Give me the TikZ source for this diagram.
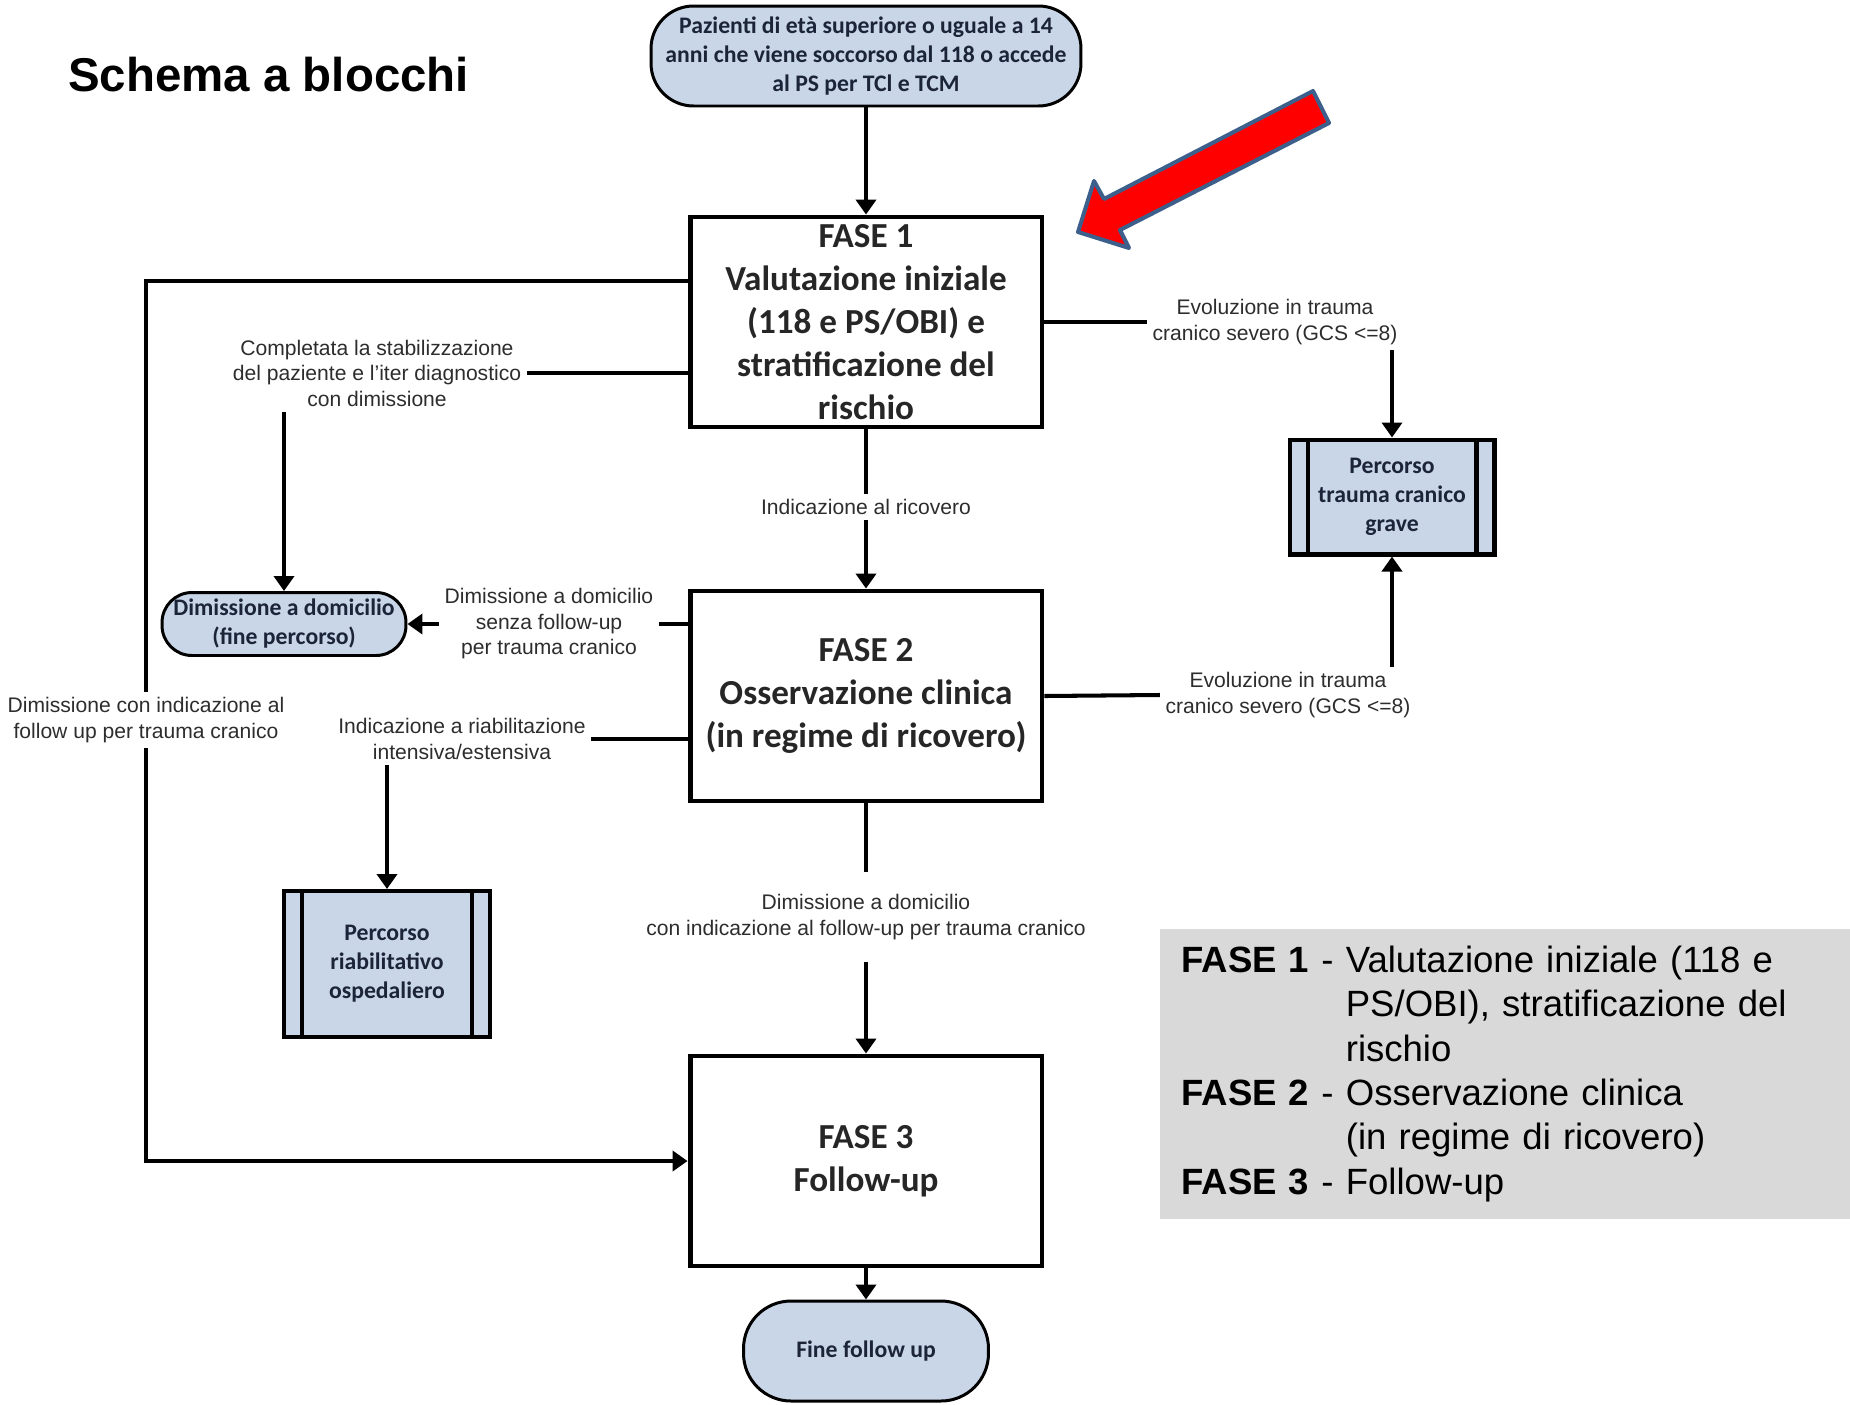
\documentclass[tikz,border=0pt]{standalone}
\usepackage{fontspec}
\setmainfont{Liberation Sans}
\newfontfamily\calibri{Carlito}
\usetikzlibrary{shapes.misc, arrows.meta, positioning, calc}
\definecolor{cFill}{RGB}{200,214,232}
\definecolor{cInk}{RGB}{28,36,58}
\definecolor{cText}{RGB}{45,45,45}
\definecolor{cLegend}{RGB}{217,217,217}
\definecolor{cRed}{RGB}{255,0,0}
\definecolor{cEdge}{RGB}{60,95,140}

\begin{document}
\begin{tikzpicture}[x=0.02cm, y=-0.02cm,
    fase/.style={rectangle, draw, line width=2.8pt, minimum width=7.04cm, minimum height=4.2cm,
                 inner sep=2pt, align=center, text=black!85, font=\calibri\bfseries\fontsize{20}{24.4}\selectfont},
    term/.style={rectangle, draw, line width=1.7pt, fill=cFill, inner sep=0pt, align=center,
                 text=cInk, font=\calibri\bfseries\fontsize{13.5}{16.5}\selectfont},
    proc/.style={rectangle, draw, line width=2.3pt, fill=cFill, align=center, text=cInk,
                 font=\calibri\bfseries\fontsize{13.5}{16.5}\selectfont,
                 path picture={\draw[line width=2.3pt]
                   ([xshift=.36cm]path picture bounding box.north west) -- ([xshift=.36cm]path picture bounding box.south west)
                   ([xshift=-.36cm]path picture bounding box.north east) -- ([xshift=-.36cm]path picture bounding box.south east);}},
    lbl/.style={align=center, inner sep=3pt, text=cText, font=\fontsize{12}{14.5}\selectfont},
    conn/.style={line width=2.3pt},
    arr/.style={conn, -{Triangle[length=.3cm, width=.4cm]}}]
  \useasboundingbox (0,0) rectangle (1850,1404);

  % title and pointer
  \node[anchor=west, inner sep=0pt, font=\bfseries\fontsize{27}{32}\selectfont] (titolo) at (68,75) {Schema a blocchi};
  \draw[fill=cRed, draw=cEdge, line width=2.3pt, line join=round]
    (1078,232) -- (1129,248) -- (1120,230) -- (1329,123) -- (1313,91) -- (1104,199) -- (1094,181) -- cycle;

  % blocks
  \node[term, minimum width=8.6cm, minimum height=2cm, rounded corners=.85cm] (start) at (866,56)
    {Pazienti di età superiore o uguale a 14\\anni che viene soccorso dal 118 o accede\\al PS per TCl e TCM};
  \node[fase] (fase1) at (866,322) {FASE 1\\Valutazione iniziale\\(118 e PS/OBI) e\\stratificazione del\\rischio};
  \node[fase] (fase2) at (866,696) {FASE 2\\Osservazione clinica\\(in regime di ricovero)};
  \node[fase] (fase3) at (866,1161) {FASE 3\\Follow-up};
  \node[term, minimum width=4.9cm, minimum height=2cm, rounded corners=.95cm] (fine) at (866,1351) {Fine follow up};
  \node[term, minimum width=4.88cm, minimum height=1.26cm, rounded corners=.6cm] (dimdom) at (284,624)
    {Dimissione a domicilio\\(fine percorso)};
  \node[proc, minimum width=4.12cm, minimum height=2.92cm] (percriab) at (387,964) {Percorso\\riabilitativo\\ospedaliero};
  \node[proc, minimum width=4.1cm, minimum height=2.3cm] (perctr) at (1392,497) {Percorso\\trauma cranico\\grave};

  % labels on the connectors
  \node[lbl] (lblstab) at (377,373) {Completata la stabilizzazione\\del paziente e l’iter diagnostico\\con dimissione};
  \node[lbl] (lblric) at (866,507) {Indicazione al ricovero};
  \node[lbl] (lblsenza) at (549,624) {Dimissione a domicilio\\senza follow-up\\per trauma cranico};
  \node[lbl] (lblriab) at (462,739) {Indicazione a riabilitazione\\intensiva/estensiva};
  \node[lbl] (lblfu) at (146,720) {Dimissione con indicazione al\\follow up per trauma cranico};
  \node[lbl] (lblevo1) at (1275,322) {Evoluzione in trauma\\cranico severo (GCS <=8)};
  \node[lbl] (lblevo2) at (1288,695) {Evoluzione in trauma\\cranico severo (GCS <=8)};
  \node[lbl, inner ysep=.45cm] (lbldimfu) at (866,917) {Dimissione a domicilio\\con indicazione al follow-up per trauma cranico};

  % connectors
  \draw[arr] (start) -- (fase1);
  \draw[conn] ([yshift=.82cm]fase1.west) -| (lblfu.north);
  \draw[arr] (lblfu.south) |- (fase3.west);
  \draw[conn] (fase1.west |- lblstab.east) -- (lblstab.east);
  \draw[arr] (lblstab.south -| dimdom.north) -- (dimdom.north);
  \draw[conn] (fase1) -- (lblric);
  \draw[arr] (lblric) -- (fase2);
  \draw[conn] (fase2.west |- lblsenza.east) -- (lblsenza.east);
  \draw[arr] (lblsenza.west) -- (dimdom.east);
  \draw[conn] (fase2.west |- lblriab.east) -- (lblriab.east);
  \draw[arr] (lblriab.south -| percriab.north) -- (percriab.north);
  \draw[conn] (fase1.east) -- (lblevo1.west);
  \draw[arr] (lblevo1.south -| perctr.north) -- (perctr.north);
  \draw[conn] (fase2.east) -- (lblevo2.west);
  \draw[arr] (lblevo2.north -| perctr.south) -- (perctr.south);
  \draw[conn] (fase2) -- (lbldimfu);
  \draw[arr] (lbldimfu) -- (fase3);
  \draw[arr] (fase3) -- (fine);

  % legend
  \node[fill=cLegend, anchor=north west, minimum height=5.8cm, text width=12.96cm, inner xsep=.42cm,
        align=left, font=\fontsize{20.8}{25.3}\selectfont] (legenda) at (1160,929)
    {\begin{tabular}{@{}l@{\ }l@{}}
      \textbf{FASE 1} - & Valutazione iniziale (118 e\\
                        & PS/OBI), stratificazione del\\
                        & rischio\\
      \textbf{FASE 2} - & Osservazione clinica\\
                        & (in regime di ricovero)\\
      \textbf{FASE 3} - & Follow-up
     \end{tabular}};
\end{tikzpicture}
\end{document}
